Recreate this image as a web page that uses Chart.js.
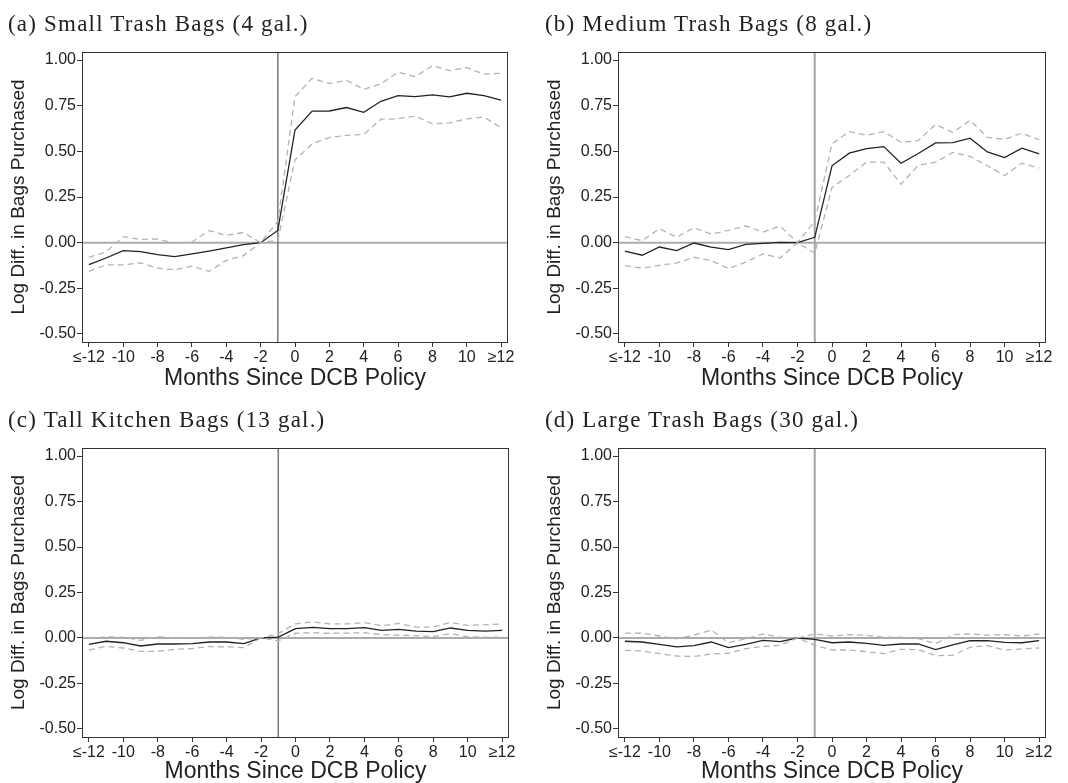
<!DOCTYPE html>
<html>
<head>
<meta charset="utf-8">
<script src="https://cdn.jsdelivr.net/npm/chart.js@4.4.1/dist/chart.umd.min.js"></script>
<style>
  body { margin: 0; background: #fff; }
  #page { position: relative; width: 1068px; height: 783px; overflow: hidden; }
  .panel { position: absolute; }
  .panel canvas { position: absolute; left: 0; top: 0; }
  .panel-title {
    position: absolute;
    font-family: "Liberation Serif", serif;
    font-size: 23px;
    letter-spacing: 1.2px;
    line-height: 1;
    color: #222;
    white-space: nowrap;
  }
</style>
</head>
<body>
<div id="page">
  <div class="panel" style="left:0;top:0;width:534px;height:390px">
    <canvas id="chartA" width="534" height="390"></canvas>
    <div class="panel-title" style="left:8px;top:12px">(a) Small Trash Bags (4 gal.)</div>
  </div>
  <div class="panel" style="left:534px;top:0;width:534px;height:390px">
    <canvas id="chartB" width="534" height="390"></canvas>
    <div class="panel-title" style="left:11px;top:12px">(b) Medium Trash Bags (8 gal.)</div>
  </div>
  <div class="panel" style="left:0;top:390px;width:534px;height:393px">
    <canvas id="chartC" width="534" height="393"></canvas>
    <div class="panel-title" style="left:8px;top:18px">(c) Tall Kitchen Bags (13 gal.)</div>
  </div>
  <div class="panel" style="left:534px;top:390px;width:534px;height:393px">
    <canvas id="chartD" width="534" height="393"></canvas>
    <div class="panel-title" style="left:11px;top:18px">(d) Large Trash Bags (30 gal.)</div>
  </div>
</div>

<script>
// event-time months, -12 and 12 are binned end points
const months = [-12, -11, -10, -9, -8, -7, -6, -5, -4, -3, -2, -1, 0, 1, 2, 3, 4, 5, 6, 7, 8, 9, 10, 11, 12];
const xTicks = [-12, -10, -8, -6, -4, -2, 0, 2, 4, 6, 8, 10, 12];
const xTickLabels = ['≤-12', '-10', '-8', '-6', '-4', '-2', '0', '2', '4', '6', '8', '10', '≥12'];
const yTicks = [-0.5, -0.25, 0, 0.25, 0.5, 0.75, 1.0];
const policyMonth = -1;

// (a) small bags: point estimate and 95% CI bounds
const smallEst = [-0.12, -0.084, -0.044, -0.049, -0.066, -0.077, -0.062, -0.046, -0.029, -0.011, 0, 0.067, 0.617, 0.72, 0.721, 0.74, 0.714, 0.774, 0.805, 0.80, 0.809, 0.798, 0.818, 0.805, 0.78];
const smallHi = [-0.08, -0.051, 0.033, 0.018, 0.02, -0.004, 0.004, 0.066, 0.04, 0.056, 0, 0.117, 0.80, 0.90, 0.872, 0.889, 0.84, 0.869, 0.934, 0.909, 0.969, 0.942, 0.958, 0.923, 0.927];
const smallLo = [-0.157, -0.122, -0.122, -0.111, -0.14, -0.149, -0.129, -0.157, -0.097, -0.071, 0, 0.013, 0.454, 0.541, 0.576, 0.588, 0.592, 0.676, 0.678, 0.694, 0.65, 0.656, 0.678, 0.687, 0.63];

// (b) medium bags
const mediumEst = [-0.047, -0.069, -0.024, -0.044, -0.002, -0.025, -0.038, -0.009, -0.004, 0.002, 0, 0.029, 0.421, 0.49, 0.515, 0.526, 0.435, 0.488, 0.546, 0.548, 0.572, 0.497, 0.466, 0.517, 0.486];
const mediumHi = [0.033, 0.011, 0.077, 0.029, 0.082, 0.047, 0.067, 0.091, 0.058, 0.091, 0, 0.117, 0.541, 0.608, 0.588, 0.608, 0.55, 0.559, 0.647, 0.603, 0.67, 0.577, 0.566, 0.599, 0.563];
const mediumLo = [-0.126, -0.14, -0.124, -0.111, -0.08, -0.098, -0.142, -0.107, -0.062, -0.084, 0, -0.058, 0.302, 0.368, 0.441, 0.441, 0.32, 0.423, 0.441, 0.494, 0.472, 0.421, 0.368, 0.435, 0.408];

// (c) tall kitchen bags
const tallEst = [-0.035, -0.018, -0.026, -0.044, -0.033, -0.033, -0.031, -0.022, -0.022, -0.031, 0, 0.005, 0.051, 0.058, 0.051, 0.051, 0.057, 0.042, 0.047, 0.038, 0.035, 0.055, 0.042, 0.038, 0.042];
const tallHi = [-0.004, 0.007, 0.004, -0.013, 0.007, 0, 0, 0.005, 0.004, -0.007, 0, 0.024, 0.078, 0.088, 0.078, 0.078, 0.084, 0.068, 0.08, 0.06, 0.06, 0.086, 0.069, 0.073, 0.077];
const tallLo = [-0.066, -0.046, -0.055, -0.073, -0.073, -0.062, -0.058, -0.047, -0.049, -0.053, 0, -0.016, 0.026, 0.029, 0.026, 0.027, 0.029, 0.018, 0.015, 0.013, 0.007, 0.024, 0.007, 0.005, 0.005];

// (d) large bags
const largeEst = [-0.018, -0.022, -0.035, -0.049, -0.042, -0.022, -0.053, -0.035, -0.013, -0.02, 0, -0.007, -0.026, -0.022, -0.029, -0.04, -0.033, -0.033, -0.064, -0.038, -0.015, -0.015, -0.024, -0.026, -0.015];
const largeHi = [0.027, 0.026, 0.011, -0.004, 0.015, 0.044, -0.026, -0.004, 0.022, 0.004, 0, 0.022, 0.011, 0.018, 0.015, 0.004, 0.004, -0.004, -0.031, 0.018, 0.022, 0.016, 0.018, 0.011, 0.022];
const largeLo = [-0.068, -0.071, -0.086, -0.099, -0.102, -0.088, -0.084, -0.058, -0.047, -0.04, 0, -0.04, -0.066, -0.066, -0.075, -0.086, -0.062, -0.064, -0.097, -0.095, -0.051, -0.042, -0.066, -0.06, -0.055];

const sans = 'Liberation Sans, Arial, sans-serif';

// zero line, policy line and the box around the plot region
const framePlugin = {
    id: 'frame',
    beforeDatasetsDraw(chart, args, opts) {
        const { ctx, chartArea: a, scales: { x, y } } = chart;
        ctx.save();
        const y0 = y.getPixelForValue(0);
        ctx.strokeStyle = '#ababab';
        ctx.lineWidth = 2;
        ctx.beginPath();
        ctx.moveTo(a.left, y0);
        ctx.lineTo(a.right, y0);
        ctx.stroke();
        const xp = x.getPixelForValue(policyMonth);
        ctx.strokeStyle = opts.policyColor;
        ctx.lineWidth = opts.policyWidth;
        ctx.beginPath();
        ctx.moveTo(xp, a.top);
        ctx.lineTo(xp, a.bottom);
        ctx.stroke();
        ctx.restore();
    },
    afterDraw(chart) {
        const { ctx, chartArea: a } = chart;
        ctx.save();
        ctx.strokeStyle = '#333';
        ctx.lineWidth = 1;
        ctx.strokeRect(a.left + 0.5, a.top + 0.5, a.right - a.left - 1, a.bottom - a.top);
        ctx.restore();
    }
};

function toPoints(values) {
    return months.map((m, i) => ({ x: m, y: values[i] }));
}

function drawPanel(id, est, hi, lo, box) {
    const ciStyle = { borderColor: '#b3b3b3', borderWidth: 1.3, borderDash: [6, 4] };
    new Chart(document.getElementById(id), {
        type: 'line',
        data: {
            datasets: [
                Object.assign({ data: toPoints(hi) }, ciStyle),
                Object.assign({ data: toPoints(lo) }, ciStyle),
                { data: toPoints(est), borderColor: '#222', borderWidth: 1.3 }
            ]
        },
        options: {
            responsive: false,
            animation: false,
            layout: { padding: { top: box.top, right: box.right, left: 0, bottom: 0 } },
            plugins: {
                legend: { display: false },
                tooltip: { enabled: false },
                frame: { policyColor: box.policyColor, policyWidth: box.policyWidth }
            },
            elements: { point: { radius: 0 }, line: { tension: 0 } },
            scales: {
                x: {
                    type: 'linear',
                    min: -12.4,
                    max: 12.4,
                    afterBuildTicks: s => { s.ticks = xTicks.map(v => ({ value: v })); },
                    afterFit: s => { s.height = box.xHeight; },
                    ticks: {
                        autoSkip: false,
                        maxRotation: 0,
                        padding: 1,
                        color: '#222',
                        font: { family: sans, size: 16 },
                        callback: v => xTickLabels[xTicks.indexOf(v)]
                    },
                    grid: { drawOnChartArea: false, tickLength: 5, color: '#333' },
                    border: { display: false },
                    title: {
                        display: true,
                        text: 'Months Since DCB Policy',
                        color: '#222',
                        font: { family: sans, size: 23, lineHeight: 1 },
                        padding: { top: 0, bottom: 0 }
                    }
                },
                y: {
                    min: -0.544,
                    max: 1.044,
                    afterBuildTicks: s => { s.ticks = yTicks.map(v => ({ value: v })); },
                    afterFit: s => { s.width = box.left; },
                    ticks: {
                        padding: 1,
                        color: '#222',
                        font: { family: sans, size: 16 },
                        callback: v => v.toFixed(2)
                    },
                    grid: { drawOnChartArea: false, tickLength: 5, color: '#333' },
                    border: { display: false },
                    title: {
                        display: true,
                        text: 'Log Diff. in Bags Purchased',
                        color: '#222',
                        font: { family: sans, size: 19 },
                        padding: { top: box.yTitle, bottom: 0 }
                    }
                }
            }
        },
        plugins: [framePlugin]
    });
}

drawPanel('chartA', smallEst, smallHi, smallLo, { top: 52, right: 26, left: 82, xHeight: 48, yTitle: 7, policyColor: '#787878', policyWidth: 1.5 });
drawPanel('chartB', mediumEst, mediumHi, mediumLo, { top: 52, right: 22, left: 84, xHeight: 48, yTitle: 9, policyColor: '#a3a3a3', policyWidth: 2 });
drawPanel('chartC', tallEst, tallHi, tallLo, { top: 58, right: 25, left: 82, xHeight: 46, yTitle: 7, policyColor: '#787878', policyWidth: 1.5 });
drawPanel('chartD', largeEst, largeHi, largeLo, { top: 58, right: 22, left: 84, xHeight: 46, yTitle: 9, policyColor: '#a3a3a3', policyWidth: 2 });
</script>
</body>
</html>
